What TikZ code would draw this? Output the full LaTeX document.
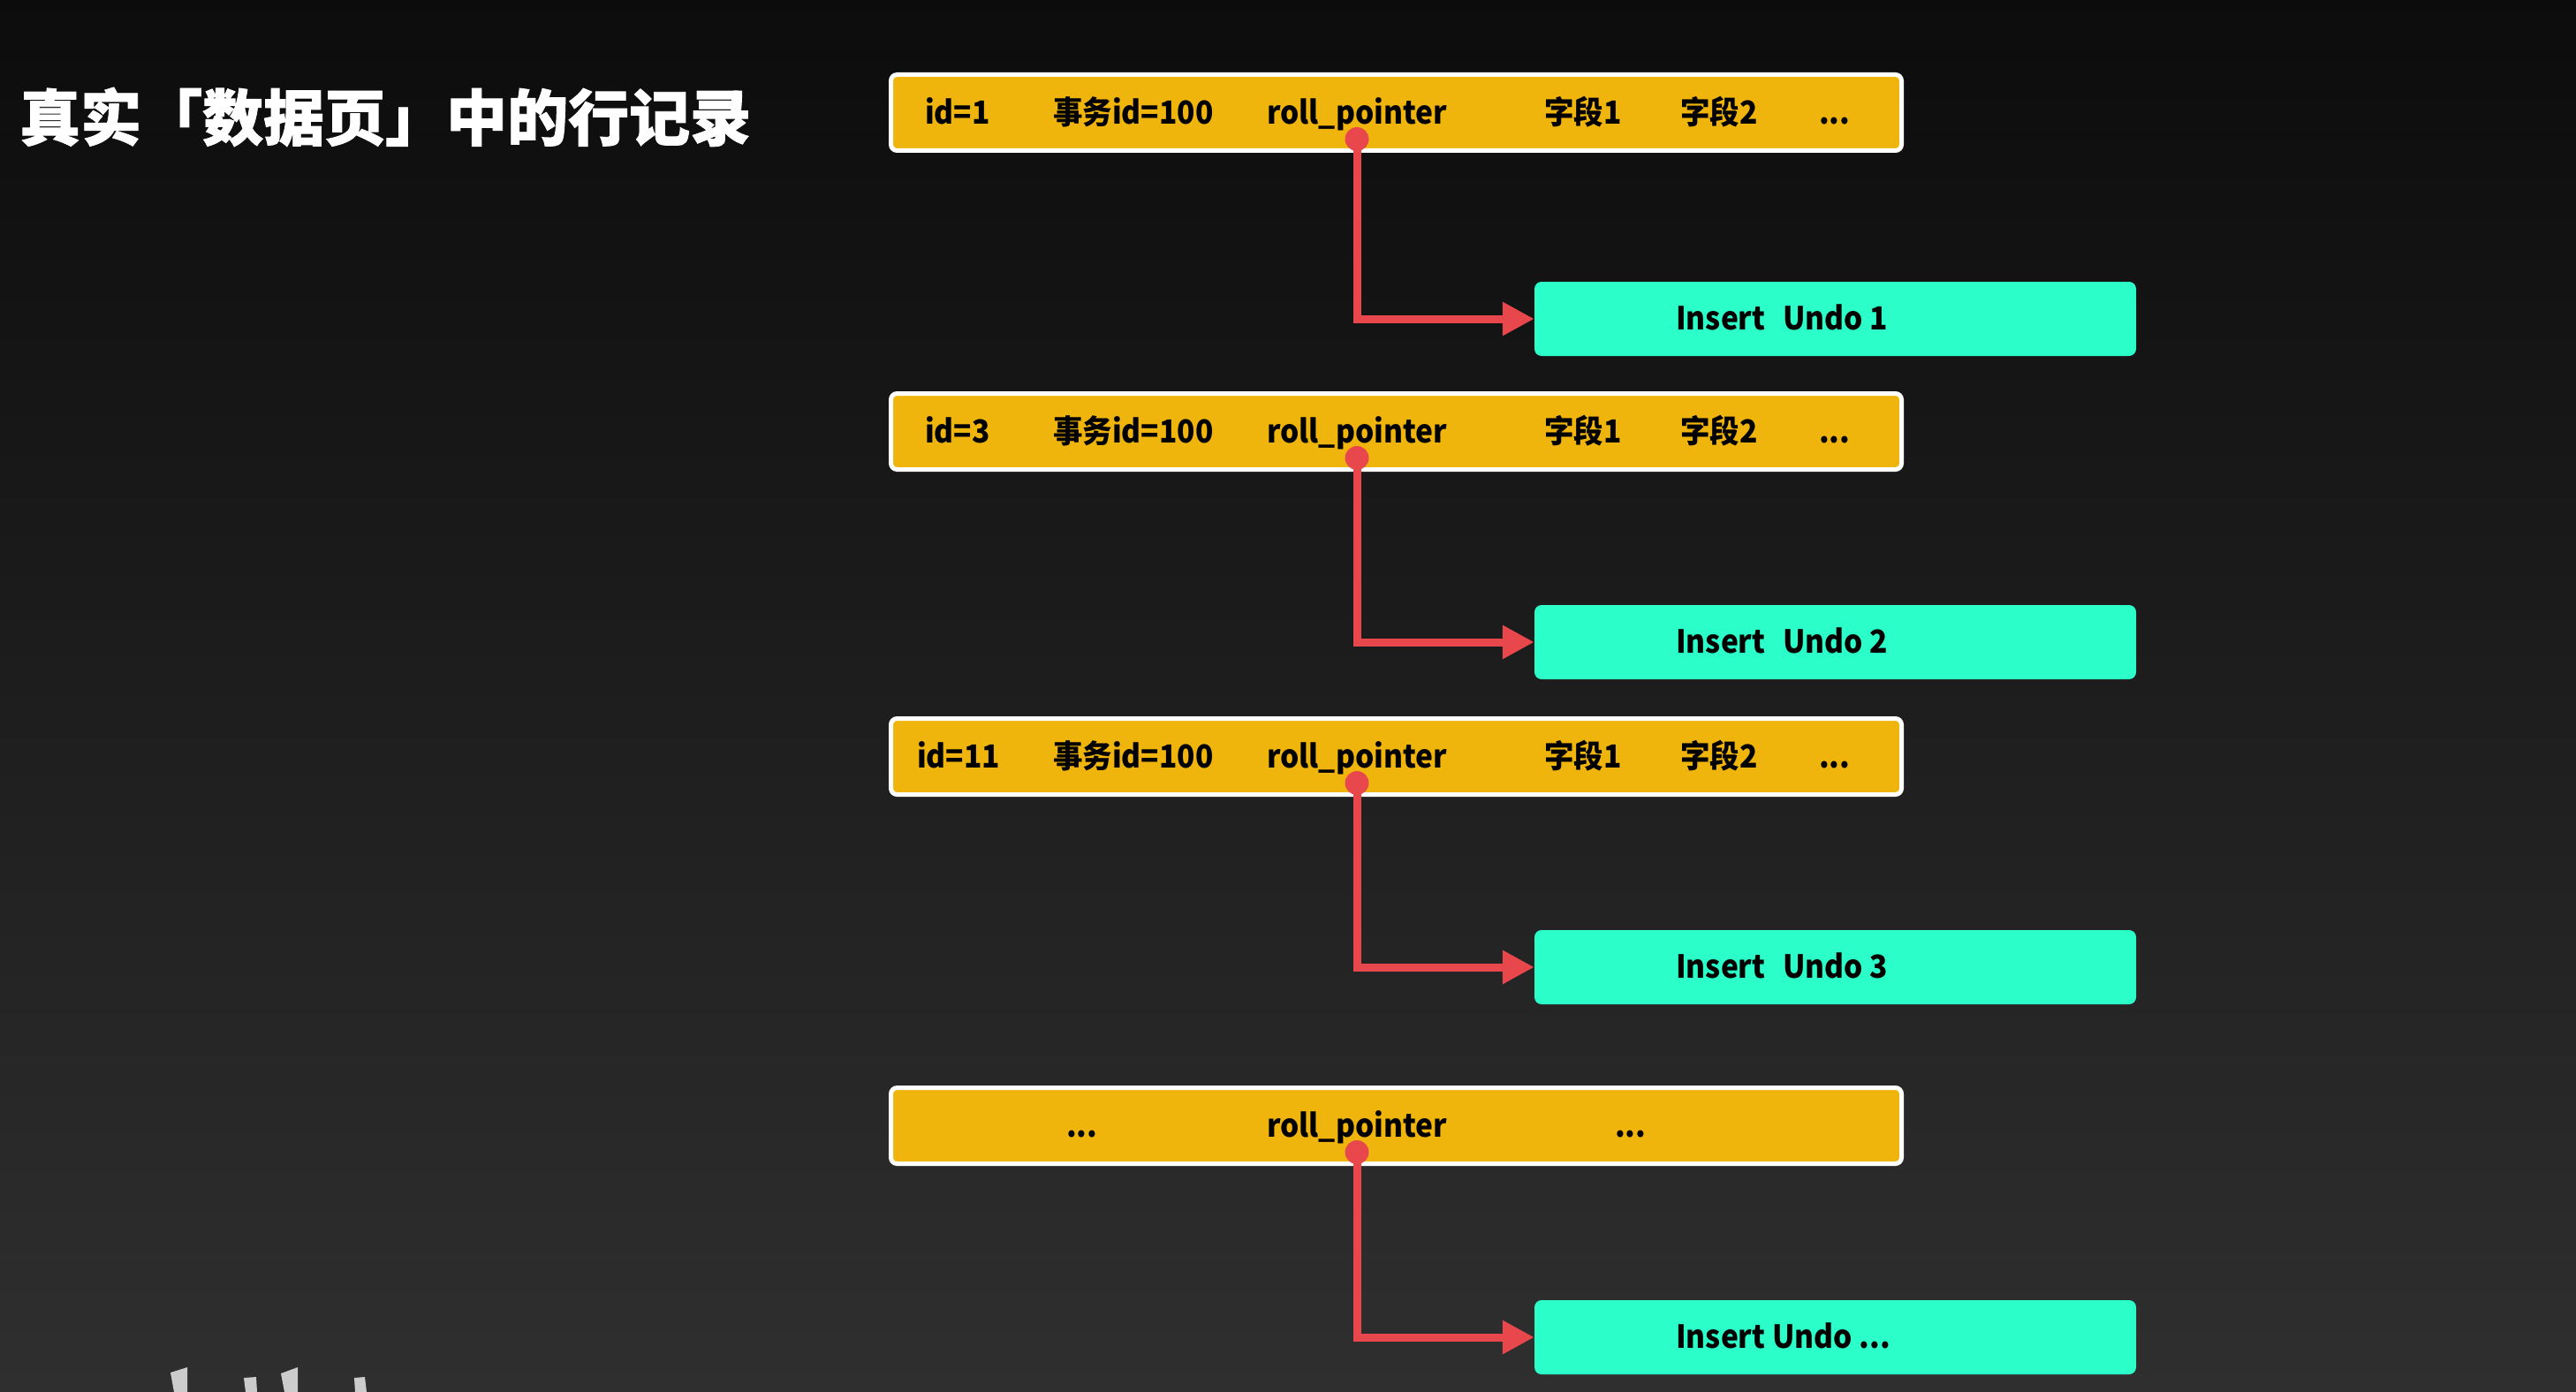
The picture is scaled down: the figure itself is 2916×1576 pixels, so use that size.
\documentclass[tikz,border=0pt]{standalone}
\usepackage{fontspec}
\setmainfont{Noto Sans CJK SC}
\newfontfamily\rowfont{Noto Sans CJK SC}[FakeStretch=0.93]
\newfontfamily\titlefont{Noto Sans CJK SC}[BoldFeatures={FakeBold=1.3}]
\usetikzlibrary{arrows.meta}
\definecolor{amber}{HTML}{F0B50C}
\definecolor{aqua}{HTML}{2BFEC8}
\definecolor{ptr}{HTML}{E8474C}
\definecolor{bgtop}{HTML}{0C0C0C}
\definecolor{bgbot}{HTML}{2F2F2F}
\begin{document}
\begin{tikzpicture}[x=1pt,y=-1pt,
  rowbox/.style={draw=white, line width=5pt, fill=amber, rounded corners=7pt, minimum width=1144pt, minimum height=86pt, inner sep=0pt},
  undobox/.style={fill=aqua, rounded corners=8pt, minimum width=681pt, minimum height=84pt, inner sep=0pt},
  rowtext/.style={anchor=base west, inner sep=0pt, text=black, font=\rowfont\fontsize{36}{40}\selectfont\bfseries},
  pin/.style={circle, fill=ptr, minimum size=27pt, inner sep=0pt},
  link/.style={draw=ptr, line width=9pt, -{Triangle[length=36pt,width=36pt]}},
  shard/.style={fill=black!20, draw=none}]
\shade[top color=bgtop, bottom color=bgbot] (0,0) rectangle (2916,1576);
\useasboundingbox (0,0) rectangle (2916,1576);
% title
\node[anchor=base west, inner sep=0pt, text=white, font=\titlefont\fontsize{69}{72}\selectfont\bfseries] (title) at (22,159) {真实「数据页」中的行记录};
% rows
\node[rowbox] (r1) at (1580.5,127.5) {};
\node[rowbox] (r2) at (1580.5,488.5) {};
\node[rowbox] (r3) at (1580.5,856.5) {};
\node[rowbox] (r4) at (1580.5,1274.5) {};
% undo boxes
\node[undobox] (u1) at (2077.5,361) {};
\node[undobox] (u2) at (2077.5,727) {};
\node[undobox] (u3) at (2077.5,1095) {};
\node[undobox] (u4) at (2077.5,1514) {};
% row texts
\foreach \r/\y/\id/\ix in {1/140.5/id=1/1047, 2/501.5/id=3/1047, 3/869.5/id=11/1038} {
  \node[rowtext] (a\r) at (\ix,\y) {\id};
  \node[rowtext] (b\r) at (1192,\y) {事务id=100};
  \node[rowtext] (c\r) at (1434,\y) {roll\_pointer};
  \node[rowtext] (d\r) at (1748,\y) {字段1};
  \node[rowtext] (e\r) at (1902,\y) {字段2};
  \node[rowtext] (f\r) at (2059,\y) {...};
}
\node[rowtext] (a4) at (1207,1287.5) {...};
\node[rowtext] (c4) at (1434,1287.5) {roll\_pointer};
\node[rowtext] (f4) at (1828,1287.5) {...};
% undo texts
\node[rowtext] (t1) at (1897,373) {Insert\hspace{0.55em}Undo 1};
\node[rowtext] (t2) at (1897,739) {Insert\hspace{0.55em}Undo 2};
\node[rowtext] (t3) at (1897,1107) {Insert\hspace{0.55em}Undo 3};
\node[rowtext] (t4) at (1897,1526) {Insert Undo ...};
% pins and links
\foreach \r/\y in {1/157.5, 2/518.5, 3/886.5, 4/1304.5} {
  \coordinate (p\r) at (1536,\y);
  \draw[link] (p\r) |- (u\r.west);
  \node[pin] (q\r) at (p\r) {};
}
% cropped light marks at the bottom-left edge
\fill[shard] (193,1554) -- (212,1548) -- (212,1576) -- (197,1576) -- cycle;
\fill[shard] (276,1560) -- (290,1559) -- (291,1576) -- (278,1576) -- cycle;
\fill[shard] (318,1555) -- (337,1548) -- (337,1576) -- (322,1576) -- cycle;
\fill[shard] (401,1560) -- (413,1559) -- (415,1576) -- (402,1576) -- cycle;
\end{tikzpicture}
\end{document}
